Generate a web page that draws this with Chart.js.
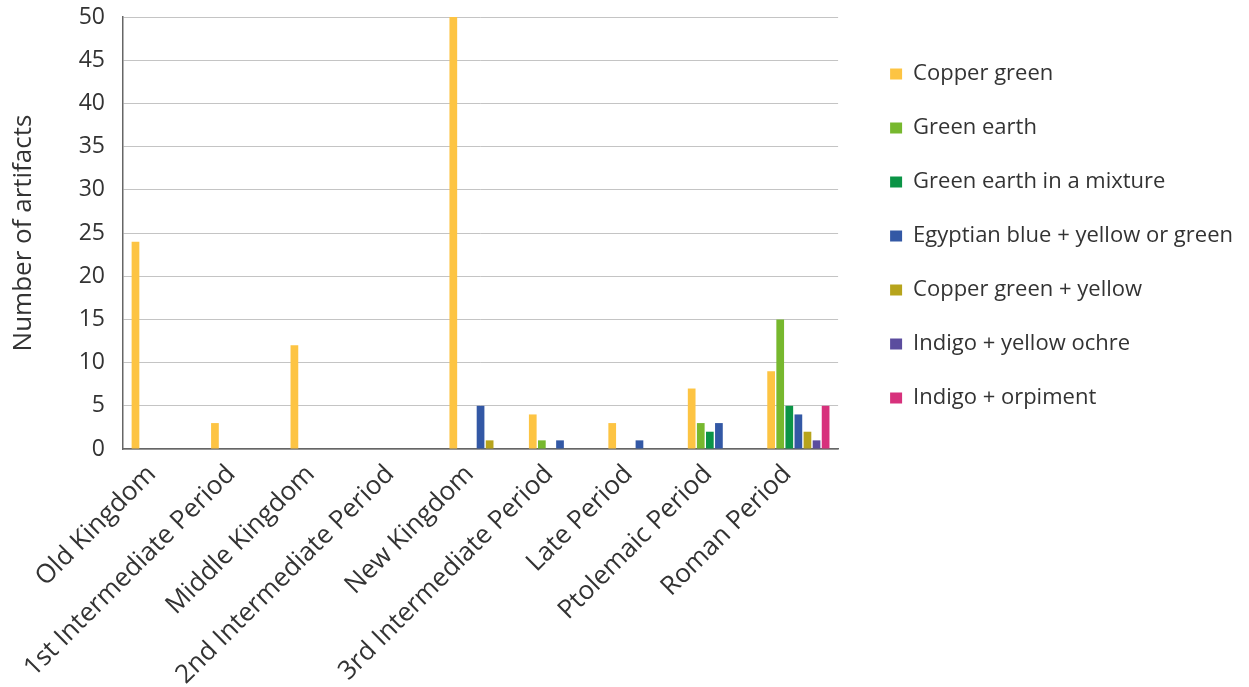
<!DOCTYPE html>
<html>
<head>
<meta charset="utf-8">
<script src="https://cdn.jsdelivr.net/npm/chart.js@4/dist/chart.umd.min.js"></script>
<style>
  html, body { margin: 0; padding: 0; background: #fff; }
  #wrap { width: 1249px; height: 687px; }
</style>
</head>
<body>
<div id="wrap"><canvas id="artChart"></canvas></div>
<script>
// periods on the x axis
const periods = [
  "Old Kingdom", "1st Intermediate Period", "Middle Kingdom",
  "2nd Intermediate Period", "New Kingdom", "3rd Intermediate Period",
  "Late Period", "Ptolemaic Period", "Roman Period"
];

// counts per pigment
const copperGreen       = [24, 3, 12, 0, 50, 4, 3, 7, 9];
const greenEarth        = [0, 0, 0, 0, 0, 1, 0, 3, 15];
const greenEarthMix     = [0, 0, 0, 0, 0, 0, 0, 2, 5];
const egyptianBlue      = [0, 0, 0, 0, 5, 1, 1, 3, 4];
const copperGreenYellow = [0, 0, 0, 0, 1, 0, 0, 0, 2];
const indigoOchre       = [0, 0, 0, 0, 0, 0, 0, 0, 1];
const indigoOrpiment    = [0, 0, 0, 0, 0, 0, 0, 0, 5];

const yTicks = [0, 5, 10, 15, 20, 25, 30, 35, 40, 45, 50];

const series = [
  { label: "Copper green", data: copperGreen, color: "#FDC443" },
  { label: "Green earth", data: greenEarth, color: "#77B82E" },
  { label: "Green earth in a mixture", data: greenEarthMix, color: "#0B9446" },
  { label: "Egyptian blue + yellow or green", data: egyptianBlue, color: "#3358A5" },
  { label: "Copper green + yellow", data: copperGreenYellow, color: "#B7A41C" },
  { label: "Indigo + yellow ochre", data: indigoOchre, color: "#5B4C9E" },
  { label: "Indigo + orpiment", data: indigoOrpiment, color: "#D7317C" }
];

const font = "'Open Sans', 'Noto Sans', sans-serif";

const ctx = document.getElementById("artChart").getContext("2d");
new Chart(ctx, {
  type: "bar",
  data: {
    labels: periods,
    datasets: series.map(s => ({
      label: s.label,
      data: s.data,
      backgroundColor: s.color,
      borderWidth: 0,
      barPercentage: 0.85,
      categoryPercentage: 0.8
    }))
  },
  options: {
    responsive: true,
    maintainAspectRatio: false,
    animation: false,
    layout: { padding: { left: 0, top: 17, right: 6, bottom: 0 } },
    plugins: {
      legend: {
        position: "right",
        align: "start",
        maxWidth: 420,
        title: { display: true, text: " ", font: { size: 10 }, padding: { top: 2, bottom: 0 } },
        labels: {
          boxWidth: 12,
          boxHeight: 11,
          padding: 32,
          color: "#333",
          font: { family: font, size: 22 }
        }
      },
      tooltip: { enabled: false }
    },
    scales: {
      x: {
        afterFit: axis => { axis.height = 238; },
        grid: { display: false, drawTicks: false },
        border: { color: "#666", width: 1.5 },
        ticks: {
          color: "#333",
          font: { family: font, size: 26 },
          minRotation: 45,
          maxRotation: 45,
          autoSkip: false,
          labelOffset: -11,
          padding: 10
        }
      },
      y: {
        min: 0,
        max: 50,
        afterFit: axis => { axis.width = 123; },
        afterBuildTicks: axis => { axis.ticks = yTicks.map(v => ({ value: v })); },
        grid: { color: "#c4c4c4", lineWidth: 1, drawTicks: true, tickLength: 15, tickColor: "rgba(0,0,0,0)" },
        border: { color: "#666", width: 1.5 },
        ticks: {
          color: "#333",
          font: { family: font, size: 23 },
          padding: 3
        },
        title: {
          display: true,
          text: "Number of artifacts",
          color: "#333",
          font: { family: font, size: 26 },
          padding: { top: 8, bottom: 0 }
        }
      },
      // empty spacer between plot and legend
      gap: {
        type: "linear",
        position: "right",
        afterFit: axis => { axis.width = 20; },
        grid: { display: false },
        border: { display: false },
        ticks: { display: false }
      }
    }
  }
});
</script>
</body>
</html>
